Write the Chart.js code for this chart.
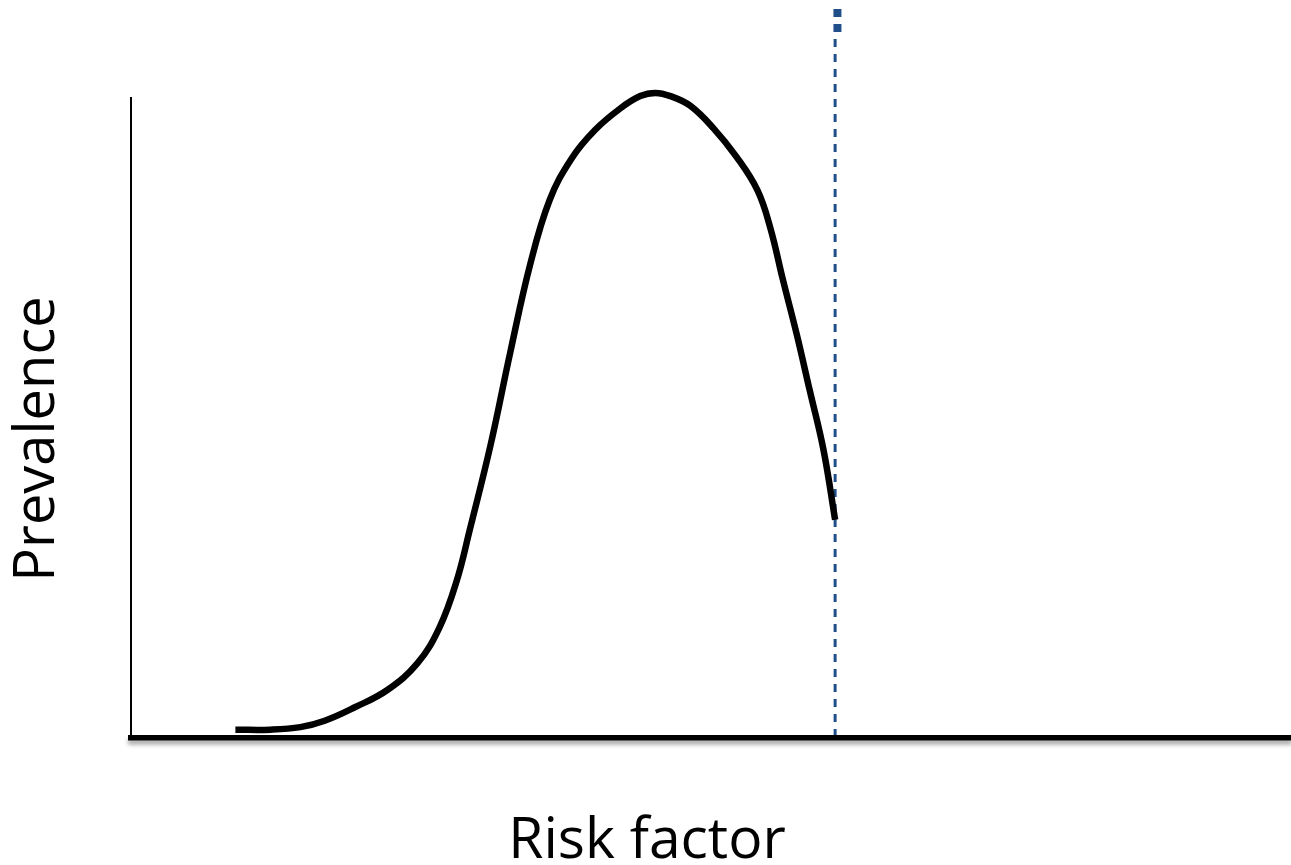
<!DOCTYPE html>
<html>
<head>
<meta charset="utf-8">
<script src="https://cdn.jsdelivr.net/npm/chart.js@4.4.1/dist/chart.umd.min.js"></script>
<style>
  html, body { margin: 0; padding: 0; background: #fff; }
  #wrap { width: 1291px; height: 865px; }
</style>
</head>
<body>
<div id="wrap"><canvas id="riskChart" width="1291" height="865"></canvas></div>
<script>
// risk factor (x) vs prevalence (y)
var riskFactor = [9.0, 12.0, 14.6, 16.7, 19.3, 22.1, 24.7, 26.6, 28.1, 29.2, 31.0, 32.7, 34.4, 36.1, 38.0, 40.0, 42.2, 43.9, 45.2, 46.5, 48.2, 50.2, 52.2, 54.0, 55.1, 56.2, 57.4, 58.5, 59.7, 60.7];
var prevalence = [1.3, 1.3, 1.7, 2.7, 4.8, 7.5, 11.7, 17.3, 24.7, 32.5, 45.8, 60.3, 73.9, 84.1, 90.6, 95.0, 98.4, 100.3, 100.8, 100.3, 98.8, 95.3, 90.8, 85.6, 79.8, 71.6, 63.0, 54.4, 45.0, 34.1];

// cutoff marker (dotted vertical line)
var cutoffX = [60.7, 60.7];
var cutoffY = [109.2, 0];
var cutoffCapX = [60.9, 60.9];
var cutoffCapY = [113.9, 110.3];

var xTitle = 'Risk factor';
var yTitle = 'Prevalence';

function toPoints(xs, ys) {
    return xs.map(function (x, i) { return {x: x, y: ys[i]}; });
}

var shadowAxis = {
    id: 'shadowAxis',
    afterDatasetsDraw: function (chart) {
        var ctx = chart.ctx;
        ctx.save();
        ctx.shadowColor = 'rgba(0,0,0,0.35)';
        ctx.shadowBlur = 4;
        ctx.shadowOffsetY = 4;
    },
    afterDraw: function (chart) {
        var ctx = chart.ctx;
        ctx.restore();
        ctx.save();
        ctx.fillStyle = '#000';
        ctx.textAlign = 'center';
        ctx.textBaseline = 'alphabetic';
        ctx.font = '57px "Open Sans"';
        ctx.fillText(xTitle, 647, 858);
        ctx.font = '56px "Open Sans"';
        ctx.translate(54, 439);
        ctx.rotate(-Math.PI / 2);
        ctx.fillText(yTitle, 0, 0);
        ctx.restore();
    }
};

var ctx = document.getElementById('riskChart').getContext('2d');
var myChart = new Chart(ctx, {
    type: 'line',
    data: {
        datasets: [{
            label: 'curve',
            data: toPoints(riskFactor, prevalence),
            borderColor: '#000',
            borderWidth: 6.5,
            borderCapStyle: 'butt',
            borderJoinStyle: 'round',
            tension: 0.4,
            pointRadius: 0,
            fill: false,
            clip: false
        }, {
            label: 'cutoff',
            data: toPoints(cutoffX, cutoffY),
            borderColor: '#1f4e89',
            borderWidth: 3,
            borderDash: [8, 7],
            borderCapStyle: 'butt',
            pointRadius: 0,
            fill: false,
            clip: false
        }, {
            label: 'cutoff cap',
            data: toPoints(cutoffCapX, cutoffCapY),
            borderColor: '#1f4e89',
            borderWidth: 8,
            borderDash: [8, 7],
            borderCapStyle: 'butt',
            pointRadius: 0,
            fill: false,
            clip: false
        }]
    },
    options: {
        responsive: false,
        animation: false,
        events: [],
        layout: { padding: { left: 131, top: 98, right: 0, bottom: 127 } },
        plugins: { legend: { display: false }, tooltip: { enabled: false }, title: { display: false } },
        scales: {
            x: {
                type: 'linear',
                min: 0,
                max: 100,
                grid: { display: false },
                ticks: { display: false },
                border: { display: true, color: '#000', width: 5.5, z: 1 },
                afterFit: function (scale) { scale.height = 0; }
            },
            y: {
                type: 'linear',
                min: 0,
                max: 100,
                grid: { display: false },
                ticks: { display: false },
                border: { display: true, color: '#000', width: 2 },
                afterFit: function (scale) { scale.width = 0; }
            }
        }
    },
    plugins: [shadowAxis]
});
</script>
</body>
</html>
